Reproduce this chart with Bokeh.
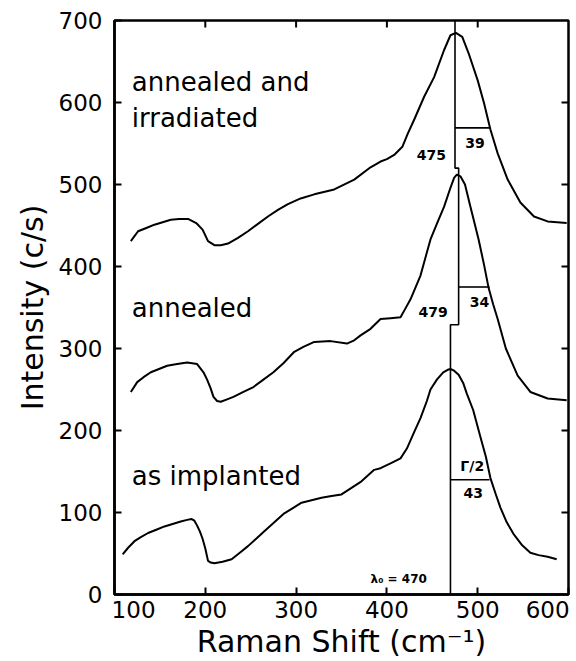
from bokeh.plotting import figure
from bokeh.models import Range1d, FixedTicker
from bokeh.core.properties import value
from bokeh.embed import file_html
from bokeh.resources import INLINE

FONT = "DejaVu Sans"

# Axis ticks
x_ticks = [100, 200, 300, 400, 500, 600]
y_ticks = [0, 100, 200, 300, 400, 500, 600, 700]

# Raman spectra (Raman shift in cm^-1, intensity in c/s)
irr_x = [118, 122, 126, 135, 144, 153, 162, 171, 181, 190, 197, 203, 210, 217,
         225, 236, 247, 258, 269, 280, 291, 305, 320, 342, 364, 382, 393, 400,
         408, 417, 423, 430, 441, 452, 463, 470, 476, 483, 490, 500, 507, 514,
         522, 533, 547, 562, 577, 598]
irr_y = [431, 437, 443, 447, 451, 454, 457, 458, 458, 453, 445, 431, 426, 426,
         428, 435, 443, 452, 461, 469, 476, 483, 488, 494, 506, 521, 528, 531,
         536, 546, 562, 579, 607, 631, 664, 682, 685, 680, 660, 627, 599, 567,
         538, 506, 478, 461, 455, 453]

ann_x = [118, 125, 132, 140, 149, 158, 169, 180, 191, 198, 202, 206, 209, 213,
         217, 224, 231, 242, 253, 264, 275, 286, 298, 308, 320, 338, 356, 364,
         371, 382, 393, 404, 415, 420, 426, 437, 444, 448, 455, 463, 470, 474,
         477, 481, 486, 492, 501, 507, 512, 517, 522, 531, 544, 558, 577, 598]
ann_y = [247, 259, 265, 271, 275, 279, 281, 283, 281, 271, 262, 251, 241, 236,
         235, 238, 241, 247, 253, 262, 271, 282, 296, 302, 308, 309, 306, 310,
         316, 324, 336, 337, 338, 348, 360, 389, 417, 433, 452, 473, 496, 508,
         512, 510, 500, 473, 433, 402, 374, 354, 336, 300, 267, 247, 239, 237]

imp_x = [109, 115, 122, 129, 137, 146, 155, 164, 173, 180, 185, 188, 191, 194,
         197, 200, 203, 206, 210, 219, 229, 238, 247, 256, 265, 276, 287, 296,
         306, 317, 328, 339, 350, 361, 372, 386, 393, 404, 415, 422, 430, 437,
         444, 448, 455, 462, 467, 470, 474, 479, 484, 488, 495, 503, 509, 514,
         520, 525, 532, 540, 549, 558, 567, 577, 587]
imp_y = [49, 57, 65, 70, 75, 79, 83, 86, 89, 91, 92, 90, 84, 77,
         68, 56, 41, 39, 38, 40, 43, 51, 59, 68, 77, 88, 99, 105,
         112, 115, 118, 120, 122, 130, 138, 152, 154, 160, 166, 178, 198, 215,
         236, 250, 262, 271, 274, 275, 273, 268, 258, 245, 225, 192, 168, 142,
         122, 106, 88, 73, 60, 51, 48, 46, 43]

# Peak positions and half widths (irradiated, annealed, as implanted)
peak_pos = [475, 479, 470]
half_width = [39, 34, 43]
half_level = [569, 375, 140]
step_level = [520, 329]

X0, X1 = 100, 600
Y0, Y1 = 0, 700

p = figure(width=576, height=661,
           x_range=Range1d(X0, X1), y_range=Range1d(Y0, Y1),
           output_backend="svg", toolbar_location=None,
           min_border_left=114, min_border_right=8,
           min_border_top=20, min_border_bottom=64)

p.grid.visible = False
p.outline_line_color = "black"
p.outline_line_width = 2.5

for ax in (p.xaxis[0], p.yaxis[0]):
    ax.axis_line_width = 2.5
    ax.axis_line_color = "black"
    ax.major_label_text_font = FONT
    ax.axis_label_text_font = FONT
    ax.axis_label_text_font_style = "normal"
    ax.axis_label_text_color = "black"
    ax.major_label_text_color = "black"

# y axis: ordinary inward ticks
p.yaxis.ticker = FixedTicker(ticks=y_ticks)
p.yaxis.major_tick_in = 7
p.yaxis.major_tick_out = 0
p.yaxis.major_tick_line_width = 2
p.yaxis.major_tick_line_color = "black"
p.yaxis.minor_tick_line_color = None

# x axis: tick marks drawn as minor ticks at the tick values; the labels of the
# two end ticks sit a little inward so they stay on the page
end_label_pos = {x_ticks[0]: 121, x_ticks[-1]: 577}
label_pos = [end_label_pos.get(t, t) for t in x_ticks]
p.xaxis.ticker = FixedTicker(ticks=label_pos, minor_ticks=x_ticks)
p.xaxis.major_label_overrides = {pos: str(t) for pos, t in zip(label_pos, x_ticks)}
p.xaxis.major_tick_in = 0
p.xaxis.major_tick_out = 0
p.xaxis.major_tick_line_color = None
p.xaxis.minor_tick_in = 7
p.xaxis.minor_tick_out = 0
p.xaxis.minor_tick_line_width = 2
p.xaxis.minor_tick_line_color = "black"

p.xaxis.major_label_text_font_size = "23px"
p.yaxis.major_label_text_font_size = "23px"
p.xaxis.major_label_standoff = 6
p.yaxis.major_label_standoff = 12
p.xaxis.axis_label = "Raman Shift (cm\u207b\u00b9)"
p.yaxis.axis_label = "Intensity (c/s)"
p.xaxis.axis_label_text_font_size = "30px"
p.yaxis.axis_label_text_font_size = "30px"
p.xaxis.axis_label_standoff = 3
p.yaxis.axis_label_standoff = 6

# Inward tick marks along the top and right edges
tick_dy = 8.5
tick_dx = 7.7
top_ticks = [t for t in x_ticks if X0 < t < X1]
right_ticks = [t for t in y_ticks if Y0 < t < Y1]
p.multi_line(xs=[[t, t] for t in top_ticks],
             ys=[[Y1, Y1 - tick_dy] for _ in top_ticks],
             line_color="black", line_width=2)
p.multi_line(xs=[[X1, X1 - tick_dx] for _ in right_ticks],
             ys=[[t, t] for t in right_ticks],
             line_color="black", line_width=2)

# Spectra
for xs, ys in ((irr_x, irr_y), (ann_x, ann_y), (imp_x, imp_y)):
    p.line(xs, ys, line_color="black", line_width=2, line_join="round")

# Stepped guide line through the three peak positions
guide_x = [peak_pos[0], peak_pos[0], peak_pos[1], peak_pos[1], peak_pos[2], peak_pos[2]]
guide_y = [Y1, step_level[0], step_level[0], step_level[1], step_level[1], Y0]
p.line(guide_x, guide_y, line_color="black", line_width=1.6)

# Half-width bars
p.multi_line(xs=[[a, a + b] for a, b in zip(peak_pos, half_width)],
             ys=[[h, h] for h in half_level],
             line_color="black", line_width=1.6)

# Peak and width values
p.text(x=[449, 497, 451, 502, 494, 495],
       y=[536, 551, 345, 357, 157, 124],
       text=[str(peak_pos[0]), str(half_width[0]), str(peak_pos[1]),
             str(half_width[1]), "\u0393/2", str(half_width[2])],
       text_align="center", text_baseline="middle", text_font=value(FONT),
       text_font_size="14px", text_font_style="bold", text_color="black")
p.text(x=[413], y=[19], text=["\u03bb\u2080 = " + str(peak_pos[2])],
       text_align="center", text_baseline="middle", text_font=value(FONT),
       text_font_size="12px", text_font_style="bold", text_color="black")

# Sample names
p.text(x=[119, 119, 119, 119], y=[625, 581, 350, 144],
       text=["annealed  and", "irradiated", "annealed", "as  implanted"],
       text_align="left", text_baseline="alphabetic", text_font=value(FONT),
       text_font_size="26px", text_color="black")

open("out.html", "w").write(file_html(p, INLINE))
